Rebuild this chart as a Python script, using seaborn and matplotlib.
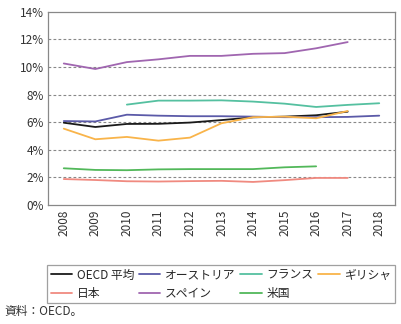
import numpy as np
import pandas as pd
import matplotlib
matplotlib.use("Agg")
import matplotlib.pyplot as plt
import seaborn as sns

sns.set_style("white")
plt.rcParams["font.family"] = ["Noto Sans CJK JP", "DejaVu Sans"]

years = list(range(2008, 2019))

oecd = [5.96, 5.65, 5.87, 5.88, 5.97, 6.15, 6.35, 6.40, 6.50, 6.76, None]
austria = [6.08, 6.05, 6.54, 6.47, 6.43, 6.43, 6.40, 6.36, 6.36, 6.38, 6.47]
france = [None, None, 7.27, 7.56, 7.56, 7.58, 7.49, 7.34, 7.10, 7.25, 7.37]
greece = [5.53, 4.76, 4.93, 4.66, 4.88, 5.92, 6.36, 6.40, 6.28, 6.81, None]
japan = [1.88, 1.81, 1.72, 1.70, 1.73, 1.75, 1.67, 1.80, 1.96, 1.96, None]
spain = [10.25, 9.85, 10.35, 10.55, 10.80, 10.80, 10.95, 11.00, 11.35, 11.80, None]
usa = [2.66, 2.54, 2.52, 2.58, 2.60, 2.60, 2.60, 2.73, 2.80, None, None]

series = {
    "OECD 平均": oecd,
    "日本": japan,
    "オーストリア": austria,
    "スペイン": spain,
    "フランス": france,
    "米国": usa,
    "ギリシャ": greece,
}
colors = {
    "OECD 平均": "#1a1a1a",
    "日本": "#f08a80",
    "オーストリア": "#5b5aa8",
    "スペイン": "#a066b0",
    "フランス": "#55c0a0",
    "米国": "#52b85a",
    "ギリシャ": "#f9b44a",
}

rows = []
for name, vals in series.items():
    for y, v in zip(years, vals):
        if v is not None:
            rows.append({"year": y, "value": v, "country": name})
df = pd.DataFrame(rows)

fig = plt.figure(figsize=(4.02, 3.24), dpi=100)
ax = fig.add_axes([48 / 402, 1 - 205 / 324, 347 / 402, (205 - 11.7) / 324])

sns.lineplot(data=df, x="year", y="value", hue="country", hue_order=list(series.keys()),
             palette=colors, linewidth=1.3, ax=ax, legend=False)

ax.set_xlim(2007.5, 2018.5)
ax.set_ylim(0, 14)
ax.set_yticks(range(0, 15, 2))
ax.set_yticklabels([f"{v}%" for v in range(0, 15, 2)])
ax.set_xticks(years)
ax.set_xticklabels([str(y) for y in years], rotation=90)
ax.set_xlabel("")
ax.set_ylabel("")
for v in range(2, 13, 2):
    ax.axhline(v, color="#888888", linestyle=(0, (2.5, 2)), linewidth=0.8, zorder=0)
for s in ax.spines.values():
    s.set_color("#888888")
    s.set_linewidth(0.9)
ax.tick_params(axis="both", labelsize=8.5, colors="#333333", length=0, pad=3)

handles = [plt.Line2D([0], [0], color=colors[n], linewidth=1.3) for n in series]
leg = fig.legend(handles, list(series.keys()), ncol=4, loc="upper left",
                 bbox_to_anchor=(47 / 402, 1 - 265 / 324, 348 / 402, 0.0),
                 bbox_transform=fig.transFigure,
                 mode="expand", borderaxespad=0, frameon=True, fancybox=False,
                 fontsize=8.5, handlelength=1.8, handletextpad=0.4, columnspacing=0.6,
                 labelspacing=0.45, borderpad=0.3)
leg.get_frame().set_edgecolor("#888888")
leg.get_frame().set_linewidth(0.9)

fig.text(4 / 402, 1 - 312 / 324, "資料：OECD。", fontsize=8.5, color="#333333", va="center")

fig.savefig("out.png", dpi=100)
